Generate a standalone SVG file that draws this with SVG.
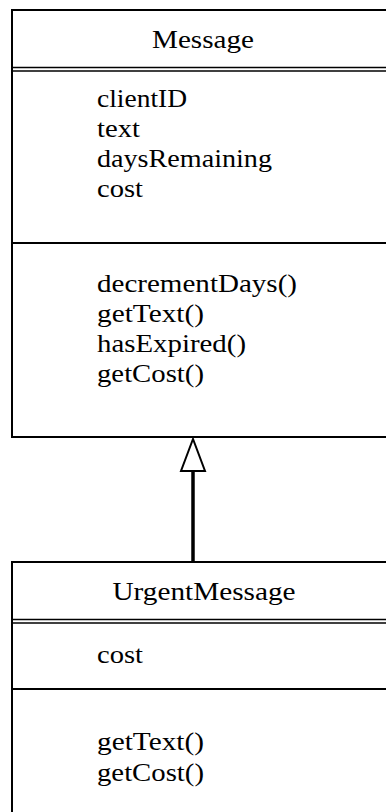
<svg xmlns="http://www.w3.org/2000/svg" width="386" height="812" viewBox="0 0 386 812">
<style>
.box{fill:#fff;stroke:#000;stroke-width:2}
.ln{stroke:#000;stroke-width:1.6}
.sep{stroke:#000;stroke-width:2}
text{font-family:"Liberation Serif","Times New Roman",serif;font-size:26px;fill:#000}
.c{text-anchor:middle}
</style>
<rect width="386" height="812" fill="#fff"/>
<g id="Message">
<rect class="box" x="12" y="10" width="400" height="427"/>
<text class="c" x="203" y="48" textLength="102" lengthAdjust="spacingAndGlyphs">Message</text>
<line class="ln" x1="12" y1="67.5" x2="386" y2="67.5"/>
<line class="ln" x1="12" y1="71" x2="386" y2="71"/>
<text x="97" y="107" textLength="90" lengthAdjust="spacingAndGlyphs">clientID</text>
<text x="97" y="137" textLength="43" lengthAdjust="spacingAndGlyphs">text</text>
<text x="97" y="167" textLength="175" lengthAdjust="spacingAndGlyphs">daysRemaining</text>
<text x="97" y="197" textLength="46" lengthAdjust="spacingAndGlyphs">cost</text>
<line class="sep" x1="12" y1="243" x2="386" y2="243"/>
<text x="97" y="292" textLength="200" lengthAdjust="spacingAndGlyphs">decrementDays()</text>
<text x="97" y="322" textLength="107" lengthAdjust="spacingAndGlyphs">getText()</text>
<text x="97" y="352" textLength="149" lengthAdjust="spacingAndGlyphs">hasExpired()</text>
<text x="97" y="382" textLength="107" lengthAdjust="spacingAndGlyphs">getCost()</text>
</g>
<g id="UrgentMessage">
<rect class="box" x="12" y="562" width="400" height="270"/>
<text class="c" x="204" y="600" textLength="183" lengthAdjust="spacingAndGlyphs">UrgentMessage</text>
<line class="ln" x1="12" y1="619.5" x2="386" y2="619.5"/>
<line class="ln" x1="12" y1="623" x2="386" y2="623"/>
<text x="97" y="663" textLength="46" lengthAdjust="spacingAndGlyphs">cost</text>
<line class="sep" x1="12" y1="689" x2="386" y2="689"/>
<text x="97" y="750" textLength="107" lengthAdjust="spacingAndGlyphs">getText()</text>
<text x="97" y="781" textLength="107" lengthAdjust="spacingAndGlyphs">getCost()</text>
</g>
<g id="connectors">
<line x1="193" y1="471" x2="193" y2="562" stroke="#000" stroke-width="3.5"/>
<polygon points="193,439 181,471 205,471" fill="#fff" stroke="#000" stroke-width="2"/>
</g>
</svg>
